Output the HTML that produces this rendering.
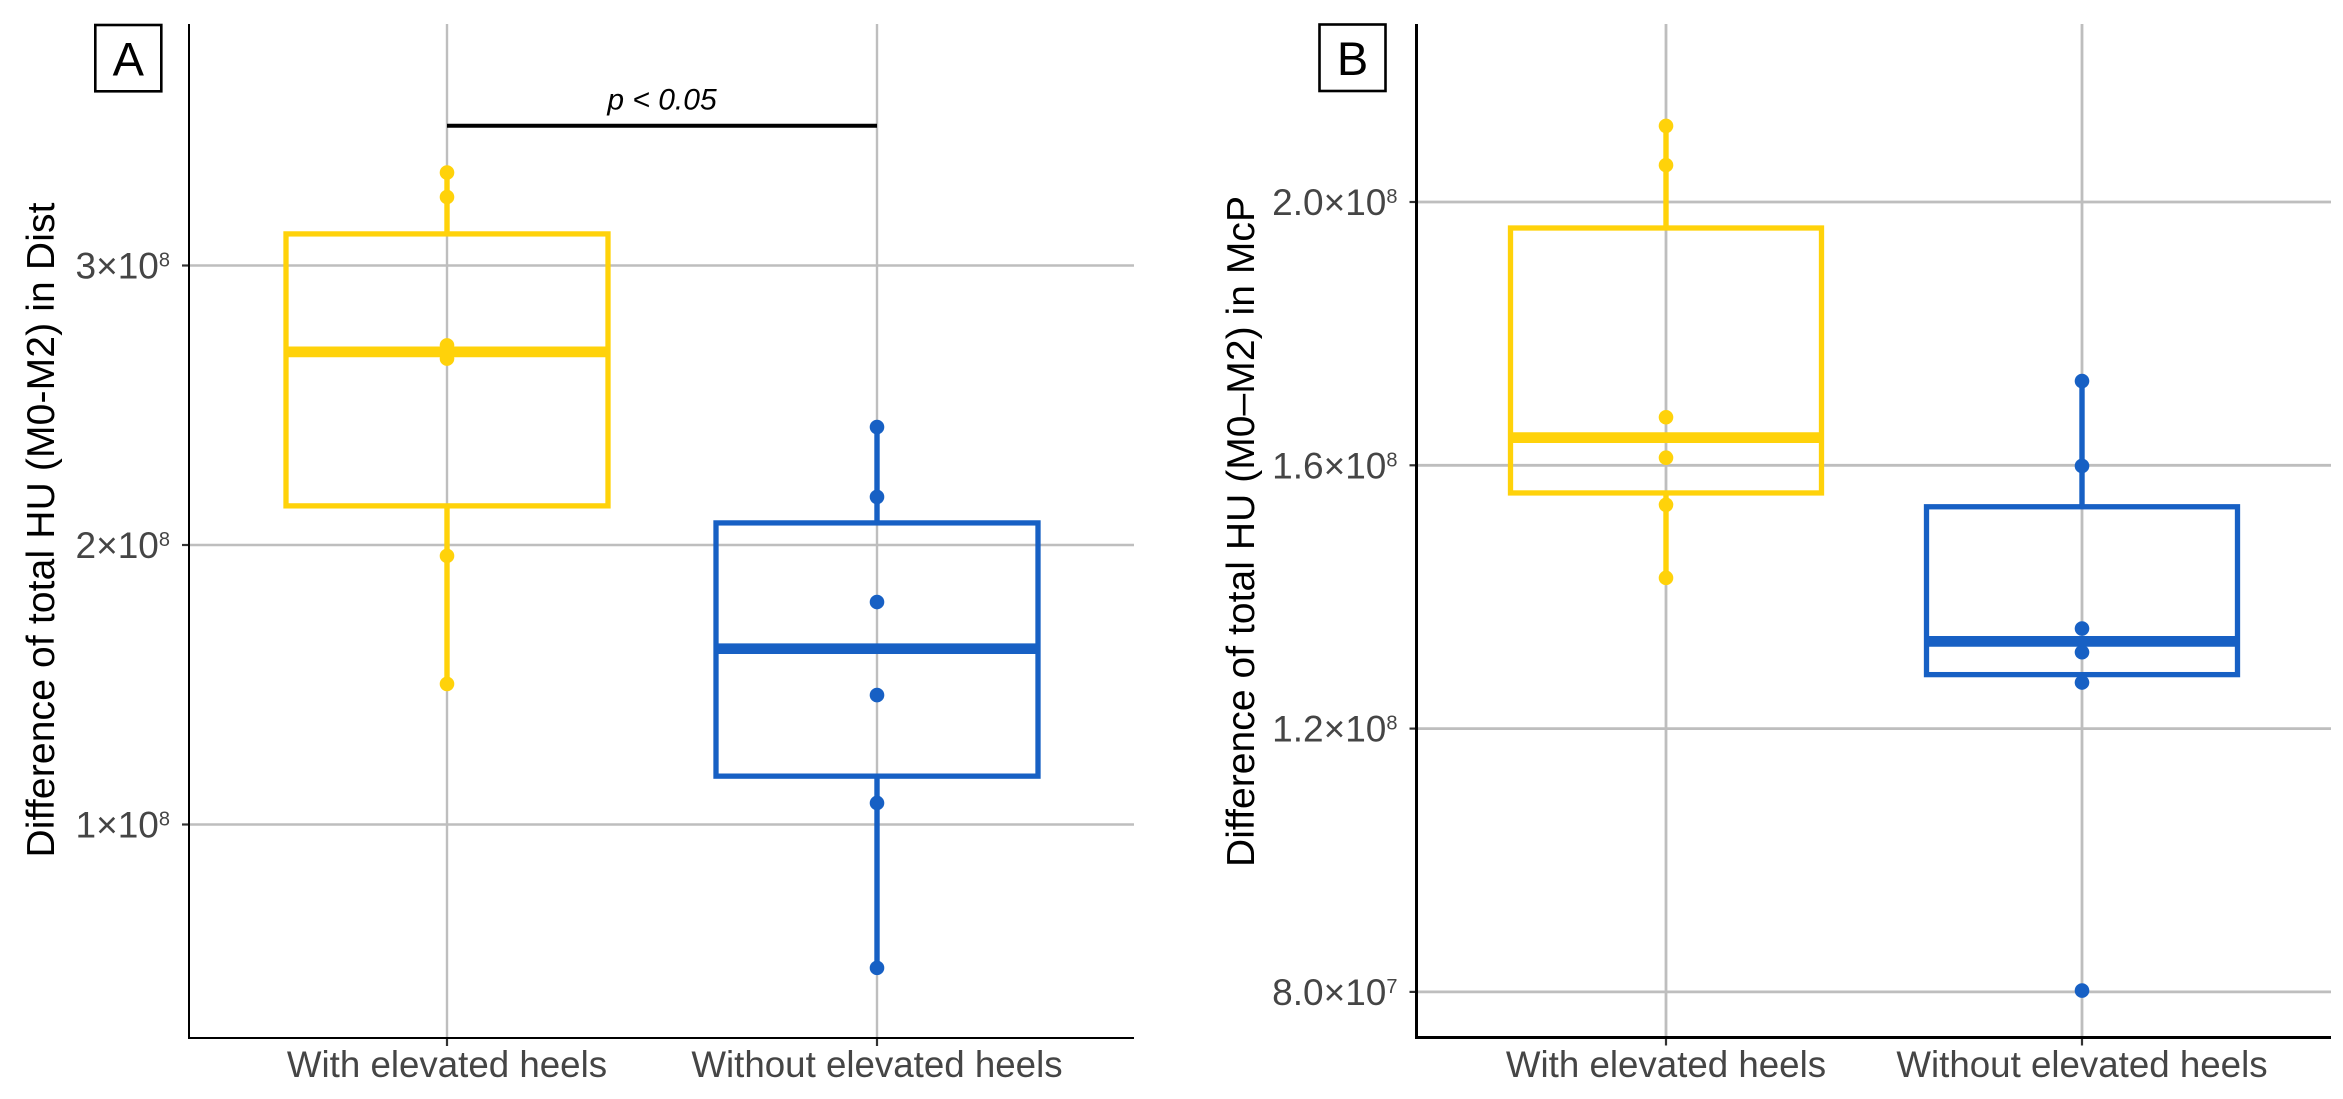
<!DOCTYPE html>
<html lang="en">
<head>
<meta charset="utf-8">
<title>Difference of total HU by heel elevation</title>
<style>
html,body{margin:0;padding:0;background:#fff;width:2343px;height:1099px;overflow:hidden}
svg{display:block}
text{font-family:"Liberation Sans",sans-serif}
</style>
</head>
<body>
<svg id="chart" xmlns="http://www.w3.org/2000/svg" width="2343" height="1099" viewBox="0 0 2343 1099"></svg>
<script>
// Shared categories
const categories = ["With elevated heels", "Without elevated heels"];
const seriesColors = ["#FFD20A", "#1760C4"];

// Panel A values (units of 1e8)
const aTicks = [1, 2, 3];
const aTickBases = ["1×10", "2×10", "3×10"];
const aTickExponents = ["8", "8", "8"];
const aWithPoints = [3.3325, 3.245, 2.714, 2.694, 2.667, 1.961, 1.503];
const aWithoutPoints = [2.422, 2.172, 1.796, 1.463, 1.077, 0.487];
// [whisker low, Q1, median, Q3, whisker high]
const aWithBox = [1.503, 2.140, 2.691, 3.113, 3.3325];
const aWithoutBox = [0.487, 1.173, 1.629, 2.079, 2.422];
const aSignificanceValue = 3.5;
const aSignificanceLabel = "p < 0.05";
const aTitle = "Difference of total HU (M0-M2) in Dist";

// Panel B values (units of 1e8)
const bTicks = [0.8, 1.2, 1.6, 2.0];
const bTickBases = ["8.0×10", "1.2×10", "1.6×10", "2.0×10"];
const bTickExponents = ["7", "8", "8", "8"];
const bWithPoints = [2.1155, 2.056, 1.673, 1.6115, 1.540, 1.429];
const bWithoutPoints = [1.728, 1.599, 1.352, 1.316, 1.270, 0.802];
const bWithBox = [1.429, 1.558, 1.642, 1.9605, 2.1155];
const bWithoutBox = [1.270, 1.282, 1.3325, 1.537, 1.728];
const bTitle = "Difference of total HU (M0–M2) in McP";

const NS = "http://www.w3.org/2000/svg";
const svg = document.getElementById("chart");

function mk(parent, tag, attrs, txt) {
  const el = document.createElementNS(NS, tag);
  for (const k in attrs) el.setAttribute(k, attrs[k]);
  if (txt !== undefined) el.textContent = txt;
  parent.appendChild(el);
  return el;
}

function drawPanel(p) {
  const y = v => p.refY + (p.refV - v) * p.pxPerUnit;
  const x = i => p.catX[i];

  const g = mk(svg, "g", {});
  
  

  // horizontal gridlines + y ticks + y labels
  p.ticks.forEach((t, i) => {
    const grid = mk(g, "line", {x1: p.left, x2: p.right, y1: y(t), y2: y(t), stroke: "#BEBEBE", "stroke-width": p.gridW});
    
    

    const tick = mk(g, "line", {x1: p.left - 7, x2: p.left, y1: y(t), y2: y(t), stroke: "#333", "stroke-width": 2.2});
    
    

    const lab = mk(g, "text", {x: p.left - 19, y: y(t) + 13, "text-anchor": "end", "font-size": 37, fill: "#454545"});
    
    
    mk(lab, "tspan", {}, p.tickBases[i]);
    mk(lab, "tspan", {dy: -12, "font-size": 20}, p.tickExponents[i]);
  });

  // vertical gridlines + x ticks + x labels
  categories.forEach((c, i) => {
    const grid = mk(g, "line", {x1: x(i), x2: x(i), y1: p.top, y2: p.bottom, stroke: "#BEBEBE", "stroke-width": p.gridW});
    
    

    const tick = mk(g, "line", {x1: x(i), x2: x(i), y1: p.bottom, y2: p.bottom + 8, stroke: "#333", "stroke-width": 2.2});
    
    

    const lab = mk(g, "text", {x: x(i), y: 1077, "text-anchor": "middle", "font-size": 36.7, fill: "#454545"}, c);
    
    
  });

  // boxes, whiskers, points
  p.boxes.forEach((b, i) => {
    const col = seriesColors[i];
    const cx = x(i);
    const hw = p.boxHalf;

    const upper = mk(g, "line", {x1: cx, x2: cx, y1: y(b[4]), y2: y(b[3]), stroke: col, "stroke-width": 5.4});
    
    

    const lower = mk(g, "line", {x1: cx, x2: cx, y1: y(b[1]), y2: y(b[0]), stroke: col, "stroke-width": 5.4});
    
    

    p.points[i].forEach(v => {
      const pt = mk(g, "circle", {cx: cx, cy: y(v), r: 7.3, fill: col});
      
      
    });

    const box = mk(g, "rect", {x: cx - hw, y: y(b[3]), width: hw * 2, height: y(b[1]) - y(b[3]), fill: "none", stroke: col, "stroke-width": 5.3});
    
    

    const med = mk(g, "line", {x1: cx - hw, x2: cx + hw, y1: y(b[2]), y2: y(b[2]), stroke: col, "stroke-width": 10.7});
    
    
  });

  // axes
  const yAxis = mk(g, "line", {x1: p.left, x2: p.left, y1: p.top, y2: p.bottom + p.axisW / 2, stroke: "#000", "stroke-width": p.axisW});
  
  

  const xAxis = mk(g, "line", {x1: p.left, x2: p.right, y1: p.bottom, y2: p.bottom, stroke: "#000", "stroke-width": p.axisW});
  
  

  // axis title
  const title = mk(g, "text", {transform: "translate(" + p.titleX + "," + p.titleY + ") rotate(-90)", "text-anchor": "middle", "font-size": 39, fill: "#000", textLength: p.titleLen}, p.title);
  
  

  // panel letter
  const badge = mk(g, "rect", {x: p.badge[0], y: p.badge[1], width: p.badge[2], height: p.badge[3], fill: "#fff", stroke: "#000", "stroke-width": 2.6});
  
  

  const letter = mk(g, "text", {x: p.badge[0] + p.badge[2] / 2, y: p.badge[1] + 50.5, "text-anchor": "middle", "font-size": 47, fill: "#000"}, p.letter);
  
  

  // significance bracket
  if (p.sigValue !== undefined) {
    const sig = mk(g, "line", {x1: x(0), x2: x(1), y1: y(p.sigValue), y2: y(p.sigValue), stroke: "#000", "stroke-width": 4});
    
    

    const sigText = mk(g, "text", {x: (x(0) + x(1)) / 2, y: y(p.sigValue) - 16.5, "text-anchor": "middle", "font-size": 30, "font-style": "italic", fill: "#000"}, p.sigLabel);
    
    
  }
}

drawPanel({
  key: "panel-a", letter: "A", title: aTitle, titleX: 54, titleY: 530, titleLen: 655,
  left: 189, right: 1134, top: 24, bottom: 1038, axisW: 2, gridW: 2.4,
  refV: 3, refY: 265.5, pxPerUnit: 279.5,
  catX: [447, 877], boxHalf: 161,
  ticks: aTicks, tickBases: aTickBases, tickExponents: aTickExponents,
  boxes: [aWithBox, aWithoutBox], points: [aWithPoints, aWithoutPoints],
  sigValue: aSignificanceValue, sigLabel: aSignificanceLabel,
  badge: [95.3, 25, 66, 66.3]
});

drawPanel({
  key: "panel-b", letter: "B", title: bTitle, titleX: 1254, titleY: 531.5, titleLen: 671,
  left: 1416.5, right: 2331, top: 24, bottom: 1037.5, axisW: 3, gridW: 2.8,
  refV: 2, refY: 202, pxPerUnit: 658.25,
  catX: [1666, 2082], boxHalf: 155.5,
  ticks: bTicks, tickBases: bTickBases, tickExponents: bTickExponents,
  boxes: [bWithBox, bWithoutBox], points: [bWithPoints, bWithoutPoints],
  badge: [1319.5, 24.5, 66, 66.5]
});
</script>
</body>
</html>
